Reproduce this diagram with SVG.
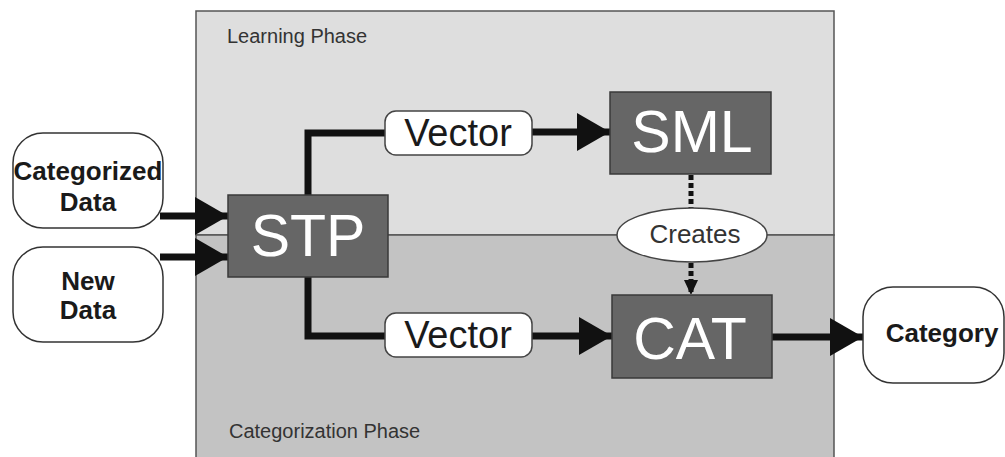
<svg xmlns="http://www.w3.org/2000/svg" width="1005" height="457" viewBox="0 0 1005 457">
<style>
.term{fill:#ffffff;stroke:#333333;stroke-width:1.5}
.proc{fill:#666666;stroke:#3a3a3a;stroke-width:1.5}
.lbl{fill:#ffffff;stroke:#444444;stroke-width:1.5}
.bold{font-family:"Liberation Sans",Arial,sans-serif;font-weight:bold;font-size:26px;fill:#1a1a1a;text-anchor:middle}
.big{font-family:"Liberation Sans",Arial,sans-serif;font-size:59px;fill:#ffffff;text-anchor:middle}
.vec{font-family:"Liberation Sans",Arial,sans-serif;font-size:38px;fill:#1a1a1a;text-anchor:middle}
.phase{font-family:"Liberation Sans",Arial,sans-serif;font-size:20px;fill:#333333}
.conn{fill:none;stroke:#111111;stroke-width:7}
.dot{fill:none;stroke:#111111;stroke-width:5;stroke-dasharray:5 3}
</style>
<defs>
<marker id="ah" markerUnits="userSpaceOnUse" markerWidth="34" markerHeight="38" refX="33" refY="19" orient="auto">
<path d="M0,0 L33,19 L0,38 z" fill="#111111"/>
</marker>
<marker id="ahs" markerUnits="userSpaceOnUse" markerWidth="14" markerHeight="16" refX="15" refY="7" orient="auto">
<path d="M0,0 L15,7 L0,14 z" fill="#111111"/>
</marker>
</defs>
<g id="phases">
<rect x="196" y="11" width="638" height="224" fill="#dedede" stroke="#555555" stroke-width="1.5"/>
<rect x="196" y="235" width="638" height="230" fill="#c3c3c3" stroke="#555555" stroke-width="1.5"/>
<text class="phase" x="227" y="43">Learning Phase</text>
<text class="phase" x="229" y="438">Categorization Phase</text>
</g>
<g id="connectors">
<line class="conn" x1="160" y1="216" x2="228" y2="216" marker-end="url(#ah)"/>
<line class="conn" x1="160" y1="257" x2="228" y2="257" marker-end="url(#ah)"/>
<polyline class="conn" points="308,196 308,133 386,133"/>
<polyline class="conn" points="308,276 308,336 386,336"/>
<line class="conn" x1="531" y1="132" x2="610" y2="132" marker-end="url(#ah)"/>
<line class="conn" x1="531" y1="336" x2="612" y2="336" marker-end="url(#ah)"/>
<line class="conn" x1="771" y1="337" x2="863" y2="337" marker-end="url(#ah)"/>
<line class="dot" x1="691" y1="175" x2="691" y2="208"/>
<line class="dot" x1="691" y1="263" x2="691" y2="295" marker-end="url(#ahs)"/>
</g>
<g id="categorized-data">
<rect class="term" x="13" y="133" width="150" height="95" rx="30"/>
<text class="bold" x="88" y="180">Categorized</text>
<text class="bold" x="88" y="211">Data</text>
</g>
<g id="new-data">
<rect class="term" x="13" y="247" width="150" height="95" rx="30"/>
<text class="bold" x="88" y="290">New</text>
<text class="bold" x="88" y="319">Data</text>
</g>
<g id="stp">
<rect class="proc" x="228" y="195" width="160" height="82"/>
<text class="big" x="308" y="256">STP</text>
</g>
<g id="vector-top">
<rect class="lbl" x="385" y="111" width="147" height="44" rx="11"/>
<text class="vec" x="458" y="146">Vector</text>
</g>
<g id="vector-bottom">
<rect class="lbl" x="385" y="313" width="147" height="44" rx="11"/>
<text class="vec" x="458" y="348">Vector</text>
</g>
<g id="sml">
<rect class="proc" x="610" y="92" width="161" height="82"/>
<text class="big" x="692" y="152">SML</text>
</g>
<g id="creates">
<ellipse cx="692" cy="235" rx="75" ry="27" fill="#ffffff" stroke="#444444" stroke-width="1.5"/>
<text x="695" y="243" font-family="Liberation Sans, Arial, sans-serif" font-size="26" fill="#333333" text-anchor="middle">Creates</text>
</g>
<g id="cat">
<rect class="proc" x="612" y="295" width="160" height="83"/>
<text class="big" x="690" y="359">CAT</text>
</g>
<g id="category">
<rect class="term" x="863" y="287" width="141" height="96" rx="30"/>
<text class="bold" x="942" y="342">Category</text>
</g>
</svg>
